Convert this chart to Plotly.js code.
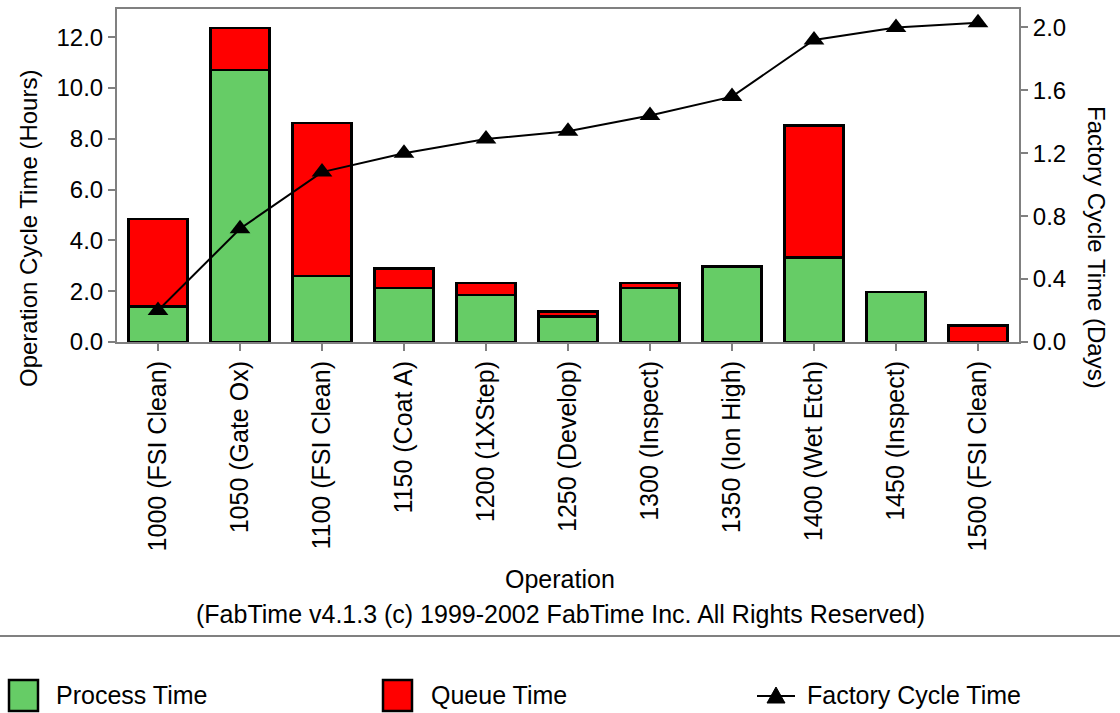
<!DOCTYPE html>
<html>
<head>
<meta charset="utf-8">
<script src="https://cdn.plot.ly/plotly-3.0.1.min.js"></script>
<style>
  html, body { margin: 0; padding: 0; background: #ffffff; }
  #chart { width: 1120px; height: 713px; }
</style>
</head>
<body>
<div id="chart"></div>
<script>
// ---- Data ----
const operations = ['1000 (FSI Clean)', '1050 (Gate Ox)', '1100 (FSI Clean)', '1150 (Coat A)',
  '1200 (1XStep)', '1250 (Develop)', '1300 (Inspect)', '1350 (Ion High)', '1400 (Wet Etch)',
  '1450 (Inspect)', '1500 (FSI Clean)'];
const processTime = [1.39, 10.70, 2.59, 2.13, 1.86, 1.00, 2.13, 2.98, 3.33, 1.96, 0.00];
const queueTime = [3.45, 1.66, 6.04, 0.77, 0.46, 0.21, 0.19, 0.00, 5.20, 0.00, 0.64];
const factoryCycleTime = [0.20, 0.72, 1.08, 1.20, 1.29, 1.34, 1.44, 1.56, 1.92, 2.00, 2.03];

const seriesNames = ['Process Time', 'Queue Time', 'Factory Cycle Time'];
const xTitle = 'Operation';
const creditLine = '(FabTime v4.1.3 (c) 1999-2002 FabTime Inc. All Rights Reserved)';
const yTitle = 'Operation Cycle Time (Hours)';
const y2Title = 'Factory Cycle Time (Days)';

// ---- Style ----
const FONT = 'Liberation Sans, Arial, sans-serif';
const GREEN = '#66CC66';
const RED = '#FF0000';
const GRAY = '#808080';

const W = 1120, H = 713;
const M = { l: 117, r: 101, t: 9, b: 371 };
const PW = W - M.l - M.r, PH = H - M.t - M.b;
const px = (x) => (x - M.l) / PW;          // pixel -> paper x
const py = (y) => (H - M.b - y) / PH;      // pixel -> paper y

const traces = [
  {
    type: 'bar', name: seriesNames[0], x: operations, y: processTime,
    marker: { color: GREEN, line: { color: '#000000', width: 2.5 } },
    width: 0.72, yaxis: 'y'
  },
  {
    type: 'bar', name: seriesNames[1], x: operations, y: queueTime,
    marker: { color: RED, line: { color: '#000000', width: 2.5 } },
    width: 0.72, yaxis: 'y'
  },
  {
    type: 'scatter', mode: 'lines+markers', name: seriesNames[2], x: operations, y: factoryCycleTime,
    yaxis: 'y2',
    line: { color: '#000000', width: 2 },
    marker: { symbol: 'triangle-up', size: 18, color: '#000000' },
    cliponaxis: false
  }
];

const yTickFont = { family: FONT, size: 24, color: '#000000' };
const xTickFont = { family: FONT, size: 25, color: '#000000' };
const titleFont = { family: FONT, size: 24, color: '#000000' };
const textFont = { family: FONT, size: 25, color: '#000000' };

const shapes = [
  // separator line above the legend
  { type: 'line', xref: 'paper', yref: 'paper', x0: px(0), x1: px(W), y0: py(636), y1: py(636),
    line: { color: GRAY, width: 2 } },
  // legend swatches
  { type: 'rect', xref: 'paper', yref: 'paper', x0: px(9), x1: px(38), y0: py(680), y1: py(711),
    fillcolor: GREEN, line: { color: '#000000', width: 2.5 } },
  { type: 'rect', xref: 'paper', yref: 'paper', x0: px(383), x1: px(412), y0: py(680), y1: py(711),
    fillcolor: RED, line: { color: '#000000', width: 2.5 } },
  { type: 'line', xref: 'paper', yref: 'paper', x0: px(757), x1: px(795), y0: py(696), y1: py(696),
    line: { color: '#000000', width: 2 } },
  { type: 'path', xref: 'paper', yref: 'paper', xsizemode: 'pixel', ysizemode: 'pixel',
    xanchor: px(776), yanchor: py(696),
    path: 'M-9,-7 L9,-7 L0,9 Z', fillcolor: '#000000', line: { color: '#000000', width: 1 } }
];

const annotations = [
  { text: xTitle, xref: 'paper', yref: 'paper', x: px(560), y: py(579), xanchor: 'center', yanchor: 'middle',
    showarrow: false, font: textFont },
  { text: creditLine, xref: 'paper', yref: 'paper', x: px(560), y: py(614), xanchor: 'center', yanchor: 'middle',
    showarrow: false, font: textFont },
  { text: yTitle, xref: 'paper', yref: 'paper', x: px(28), y: py(229), xanchor: 'center', yanchor: 'middle',
    textangle: -90, showarrow: false, font: titleFont },
  { text: y2Title, xref: 'paper', yref: 'paper', x: px(1097), y: py(247), xanchor: 'center', yanchor: 'middle',
    textangle: 90, showarrow: false, font: titleFont },
  { text: seriesNames[0], xref: 'paper', yref: 'paper', x: px(54), y: py(695), xanchor: 'left', yanchor: 'middle',
    showarrow: false, font: textFont },
  { text: seriesNames[1], xref: 'paper', yref: 'paper', x: px(429), y: py(695), xanchor: 'left', yanchor: 'middle',
    showarrow: false, font: textFont },
  { text: seriesNames[2], xref: 'paper', yref: 'paper', x: px(805), y: py(695), xanchor: 'left', yanchor: 'middle',
    showarrow: false, font: textFont }
];

const layout = {
  width: W, height: H,
  margin: M,
  paper_bgcolor: '#ffffff', plot_bgcolor: '#ffffff',
  font: { family: FONT, size: 24, color: '#000000' },
  barmode: 'stack',
  showlegend: false,
  xaxis: {
    type: 'category', range: [-0.5, operations.length - 0.5],
    tickangle: -90, tickfont: xTickFont,
    showline: true, linecolor: GRAY, linewidth: 2, mirror: true,
    ticks: 'outside', ticklen: 7, tickwidth: 2, tickcolor: GRAY,
    showgrid: false, zeroline: false, fixedrange: true
  },
  yaxis: {
    range: [0, 13.11], dtick: 2, tick0: 0, tickformat: '.1f',
    tickfont: yTickFont,
    showline: true, linecolor: GRAY, linewidth: 2,
    ticks: 'outside', ticklen: 7, tickwidth: 2, tickcolor: GRAY,
    showgrid: false, zeroline: false, fixedrange: true
  },
  yaxis2: {
    overlaying: 'y', side: 'right',
    range: [0, 2.117], dtick: 0.4, tick0: 0, tickformat: '.1f',
    tickfont: yTickFont,
    showline: true, linecolor: GRAY, linewidth: 2,
    ticks: 'outside', ticklen: 7, tickwidth: 2, tickcolor: GRAY,
    showgrid: false, zeroline: false, fixedrange: true
  },
  shapes: shapes,
  annotations: annotations
};

Plotly.newPlot('chart', traces, layout, { staticPlot: true, displayModeBar: false });
</script>
</body>
</html>
